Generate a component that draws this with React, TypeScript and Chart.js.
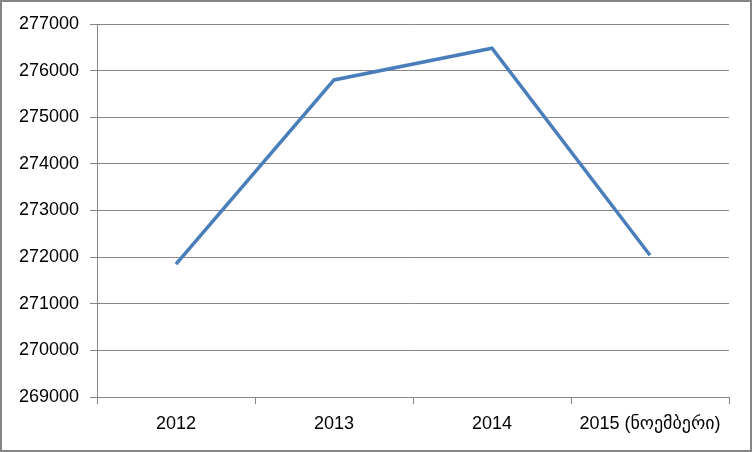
import React, { useEffect, useRef } from "react";
import { Chart, registerables } from "chart.js";

Chart.register(...registerables);

const categories = ["2012", "2013", "2014", "2015 (ნოემბერი)"];
const values = [271850, 275800, 276480, 272040];
const yMin = 269000;
const yMax = 277000;
const yStep = 1000;

const FONT = '"Liberation Sans", "DejaVu Sans", sans-serif';
const GRID = "#868686";

const borderPlugin = {
  id: "outerBorder",
  afterDraw(chart: any) {
    const { ctx, width, height } = chart;
    ctx.save();
    ctx.strokeStyle = GRID;
    ctx.lineWidth = 2;
    ctx.strokeRect(1, 1, width - 2, height - 2);
    ctx.restore();
  },
};

export default function App() {
  const ref = useRef<HTMLCanvasElement>(null);
  useEffect(() => {
    document.body.style.margin = "0";
    const chart = new Chart(ref.current!, {
      type: "line",
      data: {
        labels: categories,
        datasets: [
          {
            data: values,
            borderColor: "#4a7ebb",
            borderWidth: 3.5,
            pointRadius: 0,
            tension: 0,
            fill: false,
          },
        ],
      },
      options: {
        animation: false,
        responsive: false,
        maintainAspectRatio: false,
        layout: { padding: { top: 24, right: 23, left: 0, bottom: 0 } },
        plugins: { legend: { display: false }, tooltip: { enabled: false } },
        scales: {
          x: {
            offset: true,
            grid: {
              offset: true,
              drawOnChartArea: false,
              drawTicks: true,
              tickLength: 7,
              color: GRID,
            },
            border: { display: true, color: GRID },
            ticks: { color: "#000", font: { family: FONT, size: 18 }, padding: 9, maxRotation: 0, autoSkip: false },
            afterFit: (s: any) => {
              s.height = 55;
            },
          },
          y: {
            min: yMin,
            max: yMax,
            grid: { color: GRID, tickLength: 7, drawTicks: true },
            border: { display: true, color: GRID },
            ticks: {
              stepSize: yStep,
              color: "#000",
              font: { family: FONT, size: 18 },
              padding: 11,
              callback: (v: any) => String(v),
            },
            afterFit: (s: any) => {
              s.width = 97;
            },
          },
        },
      },
      plugins: [borderPlugin],
    });
    return () => chart.destroy();
  }, []);
  return (
    <div style={{ position: "absolute", left: 0, top: 0, width: 752, height: 452 }}>
      <canvas ref={ref} width={752} height={452} style={{ display: "block" }} />
    </div>
  );
}
